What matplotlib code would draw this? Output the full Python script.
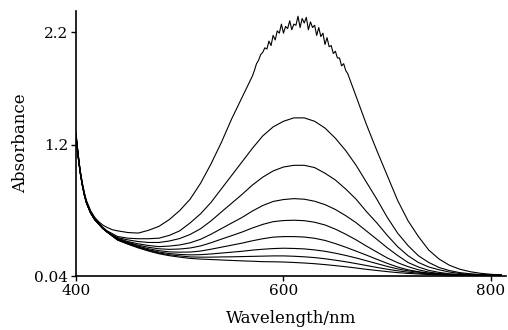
import matplotlib
matplotlib.use('Agg')
import matplotlib.pyplot as plt

plt.rcParams['font.family'] = ['DejaVu Serif']

# wavelengths (nm) for the smooth spectra: dense at the steep start, then 10 nm
wl = [400, 402, 404, 406, 408, 410, 414, 418, 422, 426, 430, 435,
      440, 450, 460, 470, 480, 490, 500, 510, 520, 530, 540, 550, 560,
      570, 580, 590, 600, 610, 620, 630, 640, 650, 660, 670, 680, 690,
      700, 710, 720, 730, 740, 750, 760, 770, 780, 790, 800, 810]

# top (noisy) spectrum has its own wavelength list
wl_top = [400, 402, 404, 406, 408, 410, 414, 418, 422, 426, 430, 435,
          440, 450, 460, 470, 480, 490, 500, 510, 520, 530, 540, 550, 560,
          570, 572, 574, 576, 578, 580, 582, 584, 586, 588, 590, 592, 594,
          596, 598, 600, 602, 604, 606, 608, 610, 612, 614, 616, 618, 620,
          622, 624, 626, 628, 630, 632, 634, 636, 638, 640, 642, 644, 646,
          648, 650, 652, 654, 656, 658, 660, 662,
          670, 680, 690, 700, 710, 720, 730, 740, 750, 760, 770, 780, 790,
          800, 810]
abs_top = [1.31, 1.13, 0.98, 0.87, 0.78, 0.71, 0.62, 0.56, 0.52, 0.49, 0.47, 0.45,
           0.44, 0.425, 0.42, 0.445, 0.48, 0.54, 0.62, 0.72, 0.86, 1.03, 1.22,
           1.43, 1.62, 1.81,
           1.86, 1.92, 1.95, 2.00, 2.02, 2.06, 2.05, 2.12, 2.08, 2.17, 2.13,
           2.21, 2.19, 2.27, 2.19, 2.25, 2.23, 2.30, 2.22, 2.27, 2.26, 2.34,
           2.24, 2.32, 2.28, 2.33, 2.22, 2.29, 2.24, 2.26, 2.17, 2.24, 2.16,
           2.19, 2.09, 2.15, 2.07, 2.08, 2.01, 2.03, 1.97, 1.97, 1.90, 1.92,
           1.86, 1.83,
           1.63, 1.38, 1.15, 0.93, 0.71, 0.53, 0.39, 0.27, 0.19, 0.135, 0.10,
           0.078, 0.064, 0.055, 0.05]

abs_2 = [1.29, 1.12, 0.97, 0.86, 0.77, 0.70, 0.61, 0.55, 0.51, 0.47, 0.44, 0.415,
         0.39, 0.375, 0.37, 0.37, 0.375, 0.40, 0.44, 0.51, 0.59, 0.69, 0.81,
         0.93, 1.05, 1.17, 1.28, 1.36, 1.41, 1.44, 1.44, 1.41, 1.35, 1.26,
         1.15, 1.02, 0.87, 0.72, 0.56, 0.42, 0.31, 0.22, 0.16, 0.115, 0.088,
         0.07, 0.06, 0.053, 0.05, 0.048]
abs_3 = [1.30, 1.12, 0.97, 0.86, 0.77, 0.70, 0.61, 0.55, 0.50, 0.465, 0.435, 0.405,
         0.38, 0.36, 0.345, 0.337, 0.337, 0.35, 0.372, 0.408, 0.458, 0.527,
         0.606, 0.684, 0.762, 0.845, 0.915, 0.97, 1.005, 1.02, 1.02, 1.00, 0.95,
         0.89, 0.81, 0.72, 0.61, 0.51, 0.40, 0.30, 0.22, 0.16, 0.12, 0.095,
         0.075, 0.062, 0.055, 0.05, 0.048, 0.047]
abs_4 = [1.28, 1.11, 0.96, 0.85, 0.76, 0.69, 0.60, 0.54, 0.50, 0.46, 0.43, 0.40,
         0.375, 0.345, 0.325, 0.31, 0.30, 0.305, 0.315, 0.334, 0.365, 0.409,
         0.459, 0.509, 0.558, 0.615, 0.664, 0.70, 0.717, 0.725, 0.72, 0.702,
         0.672, 0.629, 0.574, 0.512, 0.438, 0.365, 0.29, 0.222, 0.16, 0.12,
         0.09, 0.072, 0.06, 0.054, 0.05, 0.047, 0.046, 0.045]
abs_5 = [1.28, 1.11, 0.96, 0.85, 0.76, 0.69, 0.60, 0.54, 0.50, 0.46, 0.43, 0.40,
         0.37, 0.338, 0.313, 0.294, 0.281, 0.276, 0.279, 0.288, 0.306, 0.334,
         0.366, 0.397, 0.429, 0.465, 0.497, 0.521, 0.531, 0.534, 0.53, 0.516,
         0.492, 0.455, 0.41, 0.36, 0.305, 0.252, 0.20, 0.158, 0.123, 0.095,
         0.075, 0.062, 0.055, 0.05, 0.047, 0.046, 0.045, 0.045]
abs_6 = [1.28, 1.11, 0.96, 0.85, 0.76, 0.69, 0.60, 0.54, 0.50, 0.46, 0.43, 0.395,
         0.365, 0.332, 0.304, 0.281, 0.264, 0.254, 0.251, 0.252, 0.261, 0.277,
         0.295, 0.313, 0.331, 0.352, 0.37, 0.384, 0.389, 0.389, 0.385, 0.374,
         0.355, 0.327, 0.295, 0.26, 0.225, 0.188, 0.152, 0.12, 0.095, 0.078,
         0.065, 0.058, 0.053, 0.05, 0.048, 0.046, 0.045, 0.045]
abs_7 = [1.27, 1.10, 0.96, 0.85, 0.76, 0.69, 0.60, 0.54, 0.50, 0.46, 0.43, 0.395,
         0.362, 0.328, 0.297, 0.272, 0.252, 0.239, 0.231, 0.227, 0.229, 0.235,
         0.243, 0.251, 0.259, 0.269, 0.277, 0.283, 0.286, 0.284, 0.28, 0.271,
         0.259, 0.242, 0.222, 0.20, 0.175, 0.15, 0.125, 0.103, 0.086, 0.074,
         0.064, 0.057, 0.052, 0.048, 0.046, 0.045, 0.045, 0.045]
abs_8 = [1.27, 1.10, 0.96, 0.85, 0.76, 0.69, 0.60, 0.54, 0.50, 0.46, 0.43, 0.395,
         0.36, 0.325, 0.293, 0.266, 0.244, 0.228, 0.218, 0.209, 0.207, 0.207,
         0.209, 0.21, 0.212, 0.214, 0.216, 0.218, 0.218, 0.215, 0.21, 0.203,
         0.193, 0.18, 0.166, 0.15, 0.133, 0.116, 0.10, 0.086, 0.074, 0.065,
         0.058, 0.053, 0.049, 0.047, 0.046, 0.045, 0.045, 0.045]
abs_9 = [1.27, 1.10, 0.96, 0.85, 0.76, 0.69, 0.60, 0.54, 0.50, 0.46, 0.43, 0.395,
         0.358, 0.322, 0.289, 0.261, 0.237, 0.22, 0.207, 0.196, 0.19, 0.186,
         0.182, 0.178, 0.174, 0.171, 0.167, 0.166, 0.164, 0.16, 0.155, 0.149,
         0.141, 0.132, 0.122, 0.111, 0.099, 0.089, 0.079, 0.07, 0.063, 0.058,
         0.053, 0.05, 0.048, 0.046, 0.045, 0.045, 0.045, 0.045]

fig = plt.figure(figsize=(5.08, 3.30), dpi=100)
ax = fig.add_axes([0.1496, 0.1636, 0.8465, 0.803])

ax.plot(wl_top, abs_top, color='black', lw=0.8)
for ys in [abs_2, abs_3, abs_4, abs_5, abs_6, abs_7, abs_8, abs_9]:
    ax.plot(wl, ys, color='black', lw=0.8)

ax.set_xlim(400, 814.5)
ax.set_ylim(0.04, 2.386)
ax.set_xticks([400, 600, 800])
ax.set_yticks([0.04, 1.2, 2.2])
ax.set_yticklabels(['0.04', '1.2', '2.2'])

for s in ['top', 'right']:
    ax.spines[s].set_visible(False)
for s in ['left', 'bottom']:
    ax.spines[s].set_linewidth(1.2)
ax.tick_params(direction='out', length=3.5, width=1.0, labelsize=11, pad=2)

ax.set_xlabel('Wavelength/nm', fontsize=12, labelpad=9)
ax.set_ylabel('Absorbance', fontsize=12, labelpad=4)

fig.savefig('out.png', dpi=100)
